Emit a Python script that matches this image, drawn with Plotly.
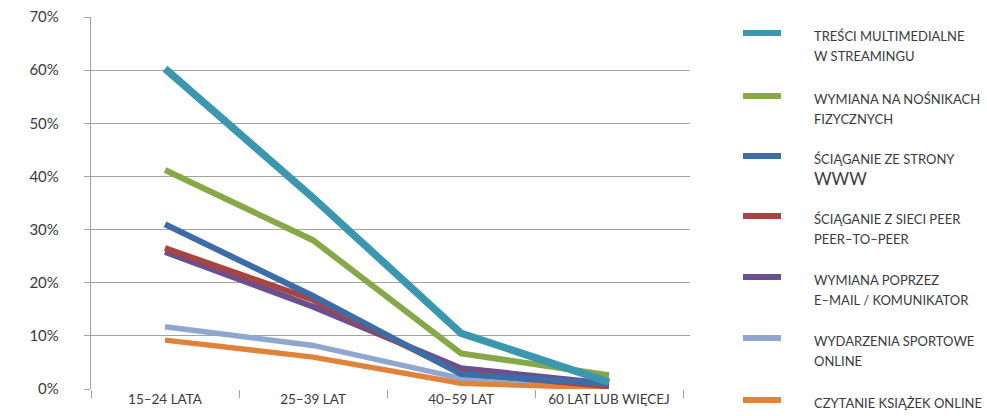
import plotly.graph_objects as go

# Age groups and share of respondents (%) per activity
age_groups = ["15–24 LATA", "25–39 LAT", "40–59 LAT", "60 LAT LUB WIĘCEJ"]

series_names = [
    ["TREŚCI MULTIMEDIALNE", "W STREAMINGU"],
    ["WYMIANA NA NOŚNIKACH", "FIZYCZNYCH"],
    ["ŚCIĄGANIE ZE STRONY", "<span style='font-size:17px'>WWW</span>"],
    ["ŚCIĄGANIE Z SIECI PEER", "PEER–TO–PEER"],
    ["WYMIANA POPRZEZ", "E–MAIL / KOMUNIKATOR"],
    ["WYDARZENIA SPORTOWE", "ONLINE"],
    ["CZYTANIE KSIĄŻEK ONLINE"],
]

streaming = [60.3, 36.0, 10.5, 1.3]
physical_media = [41.2, 28.0, 6.7, 2.6]
www_download = [31.0, 17.5, 2.8, 1.0]
p2p_download = [26.5, 16.8, 3.0, 0.5]
email_messenger = [25.8, 15.5, 3.9, 1.0]
sports_online = [11.7, 8.2, 2.0, 1.2]
ebooks_online = [9.2, 6.0, 1.1, 0.2]

values = [streaming, physical_media, www_download, p2p_download,
          email_messenger, sports_online, ebooks_online]
colors = ["#3A97AE", "#86A847", "#3D6DA8", "#A84542", "#6B4F8E", "#8FA6CE", "#E0823A"]
widths = [7.5, 6, 6, 6, 6, 5.5, 5.5]

y_ticks = [0, 10, 20, 30, 40, 50, 60, 70]

FONT = "Lato"
GRID = "#A3A39D"
TEXT = "#3A3A3A"

fig = go.Figure()

# draw back-to-front so the top series ends up on top
for name, vals, col, w in reversed(list(zip(series_names, values, colors, widths))):
    fig.add_trace(go.Scatter(
        x=age_groups, y=vals, mode="lines", name=" ".join(name),
        line=dict(color=col, width=w), showlegend=False,
    ))

L, R, T, B = 91, 297, 17, 27
W, H = 987, 416
pw, ph = W - L - R, H - T - B


def px_x(px):
    return (px - L) / pw


def px_y(py):
    return (H - B - py) / ph


# legend built from line swatches and labels
legend_y = [33, 96, 156, 216, 277, 338, 400]
for name, col, ly in zip(series_names, colors, legend_y):
    fig.add_shape(type="line", xref="paper", yref="paper",
                  x0=px_x(743), x1=px_x(781), y0=px_y(ly), y1=px_y(ly),
                  line=dict(color=col, width=6))
    for i, line_text in enumerate(name):
        fig.add_annotation(xref="paper", yref="paper", x=px_x(812), y=px_y(ly + 3 + 20 * i),
                           xanchor="left", yanchor="middle", showarrow=False,
                           text=line_text,
                           font=dict(family=FONT, size=13, color=TEXT))

fig.update_layout(
    width=W, height=H,
    margin=dict(l=L, r=R, t=T, b=B),
    paper_bgcolor="white", plot_bgcolor="white",
    font=dict(family=FONT, color=TEXT),
    xaxis=dict(
        type="category", range=[-0.5, -0.5 + pw / 148.0], automargin=False,
        tickson="boundaries", ticks="outside", ticklen=8, tickwidth=1.3,
        tickcolor=GRID, showgrid=False, showline=False, zeroline=False,
        tickfont=dict(family=FONT, size=13.5, color=TEXT),
    ),
    yaxis=dict(
        range=[0, 70], tickvals=y_ticks, ticktext=[f"{v}%" for v in y_ticks],
        automargin=False,
        showgrid=True, gridcolor=GRID, gridwidth=1.3,
        ticks="outside", ticklen=6, tickwidth=1.3, tickcolor=GRID,
        showline=True, linecolor=GRID, linewidth=1.3,
        zeroline=False, ticklabelstandoff=22,
        tickfont=dict(family=FONT, size=15, color=TEXT),
    ),
)

fig.write_html("out.html")
